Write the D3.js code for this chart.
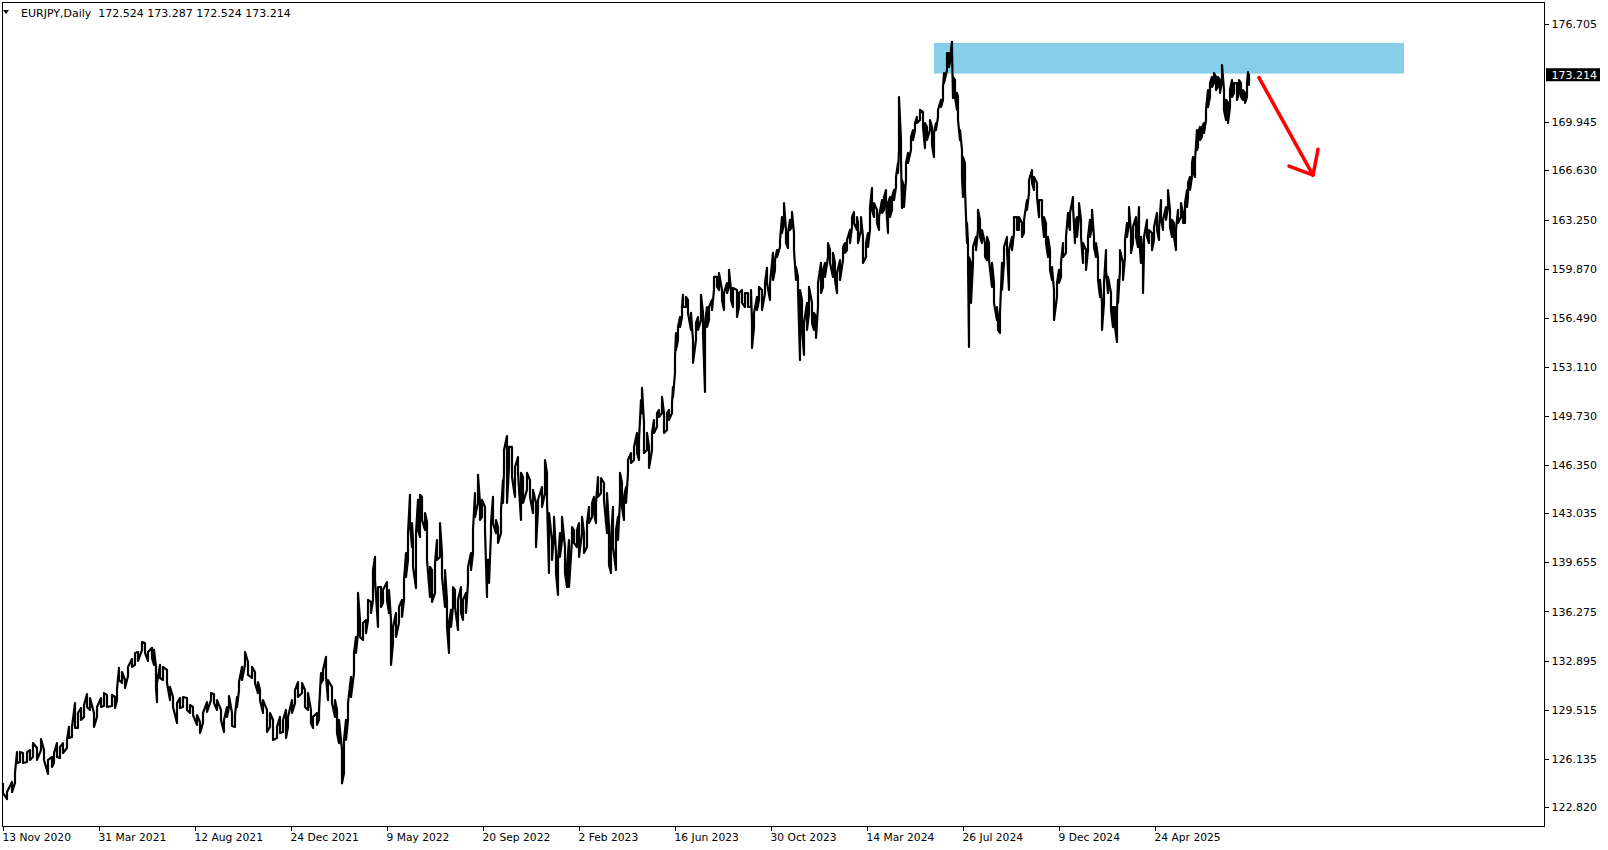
<!DOCTYPE html>
<html>
<head>
<meta charset="utf-8">
<script src="https://cdn.jsdelivr.net/npm/d3@7"></script>
<style>
  body { margin: 0; background: #fff; }
  text { font-family: "DejaVu Sans", sans-serif; font-size: 11px; fill: #000; }
</style>
</head>
<body>
<svg id="chart" width="1608" height="850"></svg>
<script>
const SYMBOL_TITLE = "EURJPY,Daily"
const LAST_OHLC = [172.524, 173.287, 172.524, 173.214]
const LAST_PRICE = 173.214

//price scale labels (173.325 is hidden under the current price label)
const PRICE_TICKS = [176.705, 169.945, 166.630, 163.250, 159.870, 156.490, 153.110, 149.730,
  146.350, 143.035, 139.655, 136.275, 132.895, 129.515, 126.135, 122.820]

//date labels, one every DATE_STEP bars starting at bar 0
const DATE_LABELS = ["13 Nov 2020", "31 Mar 2021", "12 Aug 2021", "24 Dec 2021", "9 May 2022",
  "20 Sep 2022", "2 Feb 2023", "16 Jun 2023", "30 Oct 2023", "14 Mar 2024", "26 Jul 2024",
  "9 Dec 2024", "24 Apr 2025"]
const DATE_STEP = 96
const BARS_VISIBLE = 1541

//price history: bar number, high and low of each sample
const barNo = [0,4,9,12,14,17,20,24,27,30,34,38,41,45,49,51,54,57,60,64,66,69,72,75,78,81,84,87,91,94,98,101,104,109,112,114,116,119,122,125,129,132,135,139,142,145,149,151,153,154,157,160,164,167,170,174,177,180,184,187,190,194,197,200,204,208,211,214,218,221,224,226,229,232,234,236,239,242,245,249,252,255,
  257,260,264,267,270,274,277,280,283,285,289,292,295,299,302,305,308,310,314,316,318,320,323,325,329,332,334,336,339,341,343,345,348,351,353,355,357,360,363,365,368,370,372,375,378,380,384,386,388,390,393,396,399,401,403,405,407,409,410,413,415,417,419,422,424,427,429,432,434,437,439,442,444,446,448,450,452,455,458,460,463,465,468,470,472,475,477,479,482,484,486,488,490,493,495,498,500,501,504,506,
  509,512,515,518,520,524,527,530,533,535,539,542,544,546,549,551,553,555,557,559,562,564,566,569,571,574,576,579,581,584,586,589,591,593,595,598,601,604,606,608,610,613,615,617,619,621,623,625,628,631,634,636,638,639,641,644,646,649,651,654,656,659,661,664,666,669,670,672,673,675,677,679,680,683,685,688,690,693,695,698,700,702,704,706,709,711,714,716,719,721,724,726,728,730,734,736,739,742,745,748,749,751,754,756,
  759,762,764,767,770,772,774,777,779,781,783,785,787,789,791,793,795,797,799,801,804,806,809,811,813,815,818,820,822,825,827,830,832,834,837,840,842,844,847,849,851,854,855,858,860,863,865,867,869,871,874,876,879,881,883,885,887,889,891,893,895,896,898,899,901,903,905,908,910,912,914,917,920,922,924,927,929,931,933,935,938,940,941,944,946,948,949,950,952,954,955,957,959,960,962,964,965,966,968,970,973,975,977,979,982,984,986,989,991,994,995,997,999,1001,1004,
  1006,1009,1011,1014,1016,1019,1021,1024,1026,1029,1031,1034,1036,1039,1041,1043,1045,1047,1049,1051,1054,1056,1058,1060,1063,1065,1067,1070,1072,1074,1076,1078,1080,1083,1085,1087,1089,1091,1093,1095,1097,1099,1101,1103,1105,1108,1110,1112,1114,1115,1117,1120,1122,1124,1126,1128,1130,1133,1135,1136,1138,1140,1141,1144,1146,1149,1151,1154,1156,1158,1160,1163,1165,1167,1169,1171,1173,1175,1178,1180,1182,1184,1185,1187,1189,1190,1192,1194,1195,1197,1199,1201,1203,1205,1207,1209,1211,1213,1215,1217,1219,1221,1223,1225,1227,1229,1231,1234,1236,1238,1240,1242,1244,1245,1246]

const highs = [124.47,123.85,124.54,125.16,126.60,126.60,126.53,126.60,126.74,127.22,126.88,127.50,126.74,126.06,126.26,126.53,127.22,126.95,127.22,127.43,128.33,128.33,129.97,129.29,129.63,129.84,130.59,130.32,129.29,129.70,130.32,130.66,130.53,130.53,130.39,130.94,132.39,132.11,131.56,132.46,133.01,133.42,133.49,134.17,134.10,133.49,133.77,133.63,132.46,131.35,132.60,132.46,132.25,131.08,130.39,129.97,130.32,130.39,130.32,129.84,129.70,129.15,128.67,129.29,130.04,130.66,130.59,130.18,129.50,128.81,129.70,130.46,129.29,129.15,130.39,131.42,132.46,133.49,132.80,132.46,132.11,131.42,
  130.87,130.18,129.50,129.29,128.81,128.33,129.02,128.81,129.50,129.02,130.18,130.87,131.42,131.35,130.87,130.66,129.50,129.02,129.29,129.50,132.04,132.25,133.15,131.56,131.08,130.18,129.50,128.81,126.74,127.43,128.81,129.97,131.77,133.42,134.52,137.55,135.69,135.48,135.69,137.07,136.93,139.13,140.03,137.96,137.96,137.75,138.30,137.75,135.69,135.21,136.17,136.59,137.07,138.44,140.30,141.67,144.30,142.36,141.19,141.67,143.95,144.30,144.16,143.05,142.43,139.34,139.13,139.61,141.19,142.36,140.30,139.13,137.07,135.48,136.38,137.96,137.75,137.07,137.96,137.07,137.55,139.34,140.30,141.88,144.43,145.67,143.74,143.95,143.47,139.82,139.82,142.36,144.16,142.57,142.09,143.26,145.32,147.39,148.35,147.60,
  147.60,146.22,146.91,145.81,145.53,145.81,145.32,144.64,143.74,143.95,144.84,146.70,145.81,143.05,141.19,142.78,140.30,139.82,141.67,142.78,140.71,139.34,141.19,142.09,141.88,141.88,142.36,142.78,141.67,142.36,143.47,143.74,144.16,143.74,145.53,145.46,145.12,144.43,142.09,141.19,143.47,141.88,142.78,145.81,145.12,144.16,144.84,146.70,147.18,147.60,148.56,148.08,150.83,151.66,149.24,148.56,147.60,148.56,149.45,149.93,150.14,151.04,149.93,149.93,150.14,150.62,151.73,153.79,155.44,155.85,156.54,157.23,158.06,157.92,157.71,156.82,154.96,156.13,156.54,158.06,156.82,156.13,157.23,157.23,157.71,159.30,159.30,159.57,158.40,158.19,158.88,159.78,158.40,158.54,158.40,158.19,158.40,158.19,158.19,158.40,156.13,156.82,157.92,158.61,
  158.40,158.88,159.92,158.88,160.95,160.46,161.15,161.84,163.42,164.38,162.53,162.32,163.22,163.77,162.32,159.98,159.30,158.40,157.71,156.13,157.51,158.61,157.51,156.82,156.54,158.88,160.26,159.78,160.26,161.63,161.15,160.95,160.26,159.57,160.46,161.36,161.63,161.84,162.53,163.42,163.77,163.42,163.01,163.42,162.05,161.63,162.32,164.11,165.42,164.38,163.91,163.42,164.59,164.80,165.28,164.38,164.80,164.80,165.28,166.18,167.14,171.68,168.72,165.97,165.49,167.14,167.83,168.93,169.41,169.89,170.31,170.79,170.65,169.89,169.62,170.10,169.62,169.20,169.89,170.79,171.48,172.37,173.33,174.71,174.71,174.92,175.47,173.06,172.85,171.96,171.68,169.41,168.03,167.55,167.14,163.01,161.63,160.67,160.26,161.36,162.05,163.91,163.22,162.53,161.63,162.05,161.63,160.26,158.88,157.23,156.54,156.82,160.26,161.36,162.05,
  161.15,162.05,163.42,163.42,163.42,163.01,163.22,164.59,165.97,166.66,166.18,165.76,164.59,164.59,163.42,163.01,162.05,161.15,159.98,158.40,158.88,159.78,160.26,161.63,162.05,163.70,163.70,164.80,163.01,163.42,164.38,163.22,161.63,161.15,162.05,163.22,163.91,162.05,161.63,160.67,159.09,157.51,158.88,161.15,159.30,158.19,157.23,157.23,157.02,159.09,161.15,160.26,161.84,163.01,164.11,162.32,162.74,163.42,162.53,164.11,162.05,160.67,162.05,163.22,162.53,162.32,162.74,163.70,162.53,164.59,163.22,164.11,165.28,163.91,163.22,163.01,162.53,163.91,164.38,163.70,164.38,165.28,165.76,166.18,167.14,167.55,167.35,169.41,169.20,169.62,169.62,169.89,170.79,172.16,172.64,173.06,173.33,173.06,173.06,172.85,173.88,172.16,171.48,171.27,172.16,172.85,172.64,172.64,172.85,172.64,172.16,171.96,172.64,173.40,173.287]

const lows = [123.78,123.37,123.85,124.47,125.85,125.92,125.85,125.92,126.06,126.26,126.06,126.74,126.06,125.09,125.58,125.85,126.26,126.19,126.53,126.88,127.57,127.64,128.26,128.26,128.81,129.02,129.70,129.50,128.33,129.02,129.70,129.77,129.70,129.77,129.63,130.18,131.56,131.35,131.01,131.84,132.46,132.60,132.87,133.63,133.42,132.87,133.08,132.60,131.01,130.04,131.70,131.56,131.35,130.18,129.70,128.60,129.63,129.70,129.50,129.29,129.15,128.47,127.91,128.60,129.36,130.18,129.97,129.50,128.81,127.98,129.02,129.70,128.40,128.33,129.70,130.87,131.56,132.60,131.91,131.70,131.35,130.66,
  130.18,129.29,127.98,128.33,127.43,127.57,127.91,127.98,127.57,128.33,129.29,129.97,130.39,130.66,129.70,129.50,128.60,128.26,128.47,128.81,131.35,131.56,131.77,130.18,129.97,129.02,127.91,127.22,124.45,125.16,127.43,128.81,130.39,132.04,133.42,134.79,134.52,134.31,134.79,135.69,136.17,137.07,138.44,135.21,136.59,136.86,137.07,136.17,132.60,134.10,134.52,135.48,135.90,137.07,138.65,139.82,142.36,140.71,139.34,137.89,141.88,141.40,142.57,141.88,139.82,137.27,136.93,137.55,139.82,140.03,138.65,136.59,135.21,133.42,135.21,136.59,136.59,135.00,136.17,135.69,136.17,138.24,139.13,140.30,142.78,143.74,142.57,142.78,141.88,137.27,138.24,141.67,142.36,141.67,140.99,141.67,143.74,146.01,143.74,146.22,
  145.53,144.16,145.81,142.57,143.74,144.64,144.16,143.05,140.71,143.26,143.47,144.43,143.95,138.92,139.82,141.67,138.92,137.41,140.03,141.19,138.92,137.96,137.96,141.19,140.99,140.71,140.03,141.67,140.30,140.71,142.36,142.78,143.05,142.36,144.16,144.43,143.95,141.67,139.47,138.92,140.71,139.13,141.19,143.95,143.47,142.57,143.74,145.81,146.49,146.70,147.18,146.70,149.93,149.93,147.18,147.39,146.15,147.39,148.56,148.97,149.66,149.93,148.56,148.76,149.45,149.93,151.04,152.69,154.27,154.96,155.85,156.54,157.23,157.23,156.82,155.65,153.38,154.96,155.65,156.33,155.44,151.38,155.85,156.33,157.02,158.40,158.61,158.40,157.71,157.02,158.19,158.61,157.71,157.23,156.54,157.23,157.51,157.23,157.23,157.23,154.41,155.85,157.02,157.71,
  157.02,158.19,158.88,157.71,159.09,159.78,160.67,161.36,162.32,163.01,161.63,161.29,162.53,162.74,161.15,159.09,158.40,153.58,155.65,153.93,155.65,156.82,156.13,155.65,155.10,157.23,158.19,158.61,159.30,160.67,160.26,159.30,159.09,158.19,159.09,160.46,160.95,161.15,161.63,162.74,163.01,162.53,161.63,162.53,160.26,160.67,161.36,162.53,163.91,163.42,163.01,162.53,163.70,163.91,164.38,162.32,163.42,163.91,164.59,165.49,166.45,168.03,167.35,164.04,164.11,165.97,167.14,168.03,168.72,169.41,169.89,170.10,169.62,168.17,168.72,169.41,168.38,167.55,169.41,170.31,170.99,171.48,172.64,173.54,173.75,174.43,174.92,171.61,171.68,170.79,170.10,168.72,166.18,164.80,165.28,161.63,160.26,154.48,157.51,160.26,161.15,162.53,162.05,161.63,160.67,160.46,160.46,158.61,157.51,156.33,155.65,155.44,158.40,160.26,161.15,
  158.40,161.15,162.32,162.53,162.53,162.05,162.32,163.91,165.08,165.76,165.28,164.80,163.42,163.42,162.05,161.63,160.67,159.78,159.09,156.33,157.92,158.88,159.30,160.67,160.95,163.01,162.53,164.11,161.63,162.05,163.42,162.05,160.26,159.78,161.15,162.05,162.74,161.36,160.67,159.09,157.92,155.65,157.51,159.78,158.19,157.02,155.85,155.85,154.82,157.51,159.78,159.09,160.67,162.05,163.01,160.95,161.63,162.05,161.36,162.05,160.26,158.19,160.95,162.05,161.63,161.15,161.84,162.53,161.84,163.42,162.53,163.22,164.11,162.74,162.05,162.05,161.15,163.01,163.42,163.01,163.01,164.11,164.80,165.28,166.18,166.66,166.18,168.03,168.24,168.72,168.93,169.20,170.10,170.99,171.68,172.37,172.64,172.16,172.37,171.96,172.85,170.79,170.10,169.89,170.99,171.68,171.96,171.48,171.96,171.68,171.48,171.27,171.68,172.64,172.524]

//resistance zone drawn on the chart
const zoneBars = [931, 1401]
const zonePrices = [173.29, 175.40]

//hand drawn red arrow: shaft then head
const arrowBars = [1256, 1310]
const arrowPrices = [173.01, 166.31]
const headBars = [1286, 1310, 1315]
const headPrices = [166.93, 166.31, 168.08]

const PLOT_LEFT = 2.5, PLOT_RIGHT = 1544.5, PLOT_TOP = 2.5, PLOT_BOTTOM = 826.5

const svg = d3.select("#chart")

const x = d3.scaleLinear().domain([0, BARS_VISIBLE]).range([3, 1544])
const y = d3.scaleLinear().domain([122.820, 176.705]).range([807, 24])

//zone sits behind the price bars
svg.append("rect")
  .attr("x", x(zoneBars[0]))
  .attr("y", y(zonePrices[1]))
  .attr("width", x(zoneBars[1]) - x(zoneBars[0]))
  .attr("height", y(zonePrices[0]) - y(zonePrices[1]))
  .attr("fill", "#87ceeb")

//each sample becomes a short vertical stroke, joined to the next one
const pts = []
barNo.forEach((b, k) => {
  if (k % 2 == 0) {
    pts.push([b, highs[k]], [b, lows[k]])
  } else {
    pts.push([b, lows[k]], [b, highs[k]])
  }
})

svg.append("path")
  .attr("d", d3.line().x(d => x(d[0])).y(d => y(d[1]))(pts))
  .attr("fill", "none")
  .attr("stroke", "#000")
  .attr("stroke-width", 2.2)
  .attr("stroke-linejoin", "round")

//red arrow
const arrowLine = d3.line().x(d => x(d[0])).y(d => y(d[1]))
svg.append("path")
  .attr("d", arrowLine(arrowBars.map((b, k) => [b, arrowPrices[k]])))
  .attr("fill", "none")
  .attr("stroke", "#ff0000")
  .attr("stroke-width", 3.5)
  .attr("stroke-linecap", "round")
svg.append("path")
  .attr("d", arrowLine(headBars.map((b, k) => [b, headPrices[k]])))
  .attr("fill", "none")
  .attr("stroke", "#ff0000")
  .attr("stroke-width", 3.5)
  .attr("stroke-linecap", "round")
  .attr("stroke-linejoin", "round")

//frame
svg.append("rect")
  .attr("x", PLOT_LEFT)
  .attr("y", PLOT_TOP)
  .attr("width", PLOT_RIGHT - PLOT_LEFT)
  .attr("height", PLOT_BOTTOM - PLOT_TOP)
  .attr("fill", "none")
  .attr("stroke", "#000")
  .attr("stroke-width", 1)
  .attr("shape-rendering", "crispEdges")

//price scale on the right
const yAxis = svg.append("g")
  .attr("transform", `translate(${PLOT_RIGHT},0)`)
  .call(d3.axisRight(y).tickValues(PRICE_TICKS).tickSize(4).tickPadding(3).tickFormat(d3.format(".3f")))
yAxis.select(".domain").remove()
yAxis.selectAll("line").attr("shape-rendering", "crispEdges")
yAxis.selectAll("text").style("font-family", '"DejaVu Sans", sans-serif').style("font-size", "11px")

//current price label
svg.append("rect")
  .attr("x", 1546)
  .attr("y", y(LAST_PRICE) - 6.5)
  .attr("width", 54)
  .attr("height", 13)
  .attr("fill", "#000")
svg.append("text")
  .attr("x", 1551.5)
  .attr("y", y(LAST_PRICE) + 4)
  .style("fill", "#fff")
  .text(d3.format(".3f")(LAST_PRICE))

//date scale at the bottom
const xAxis = svg.append("g")
  .attr("transform", `translate(0,${PLOT_BOTTOM})`)
  .call(d3.axisBottom(x)
    .tickValues(DATE_LABELS.map((d, i) => i * DATE_STEP))
    .tickSize(4)
    .tickPadding(3)
    .tickFormat((d, i) => DATE_LABELS[i]))
xAxis.select(".domain").remove()
xAxis.selectAll("line").attr("shape-rendering", "crispEdges")
xAxis.selectAll("text")
  .attr("text-anchor", "start")
  .attr("dx", -1)
  .style("font-family", '"DejaVu Sans", sans-serif')
  .style("font-size", "10.7px")

//title with the small dropdown triangle
svg.append("path")
  .attr("d", "M3,10 L9,10 L6,14 Z")
  .attr("fill", "#000")
svg.append("text")
  .attr("x", 21)
  .attr("y", 17)
  .attr("xml:space", "preserve")
  .text(SYMBOL_TITLE + "  " + LAST_OHLC.map(d3.format(".3f")).join(" "))
</script>
</body>
</html>
